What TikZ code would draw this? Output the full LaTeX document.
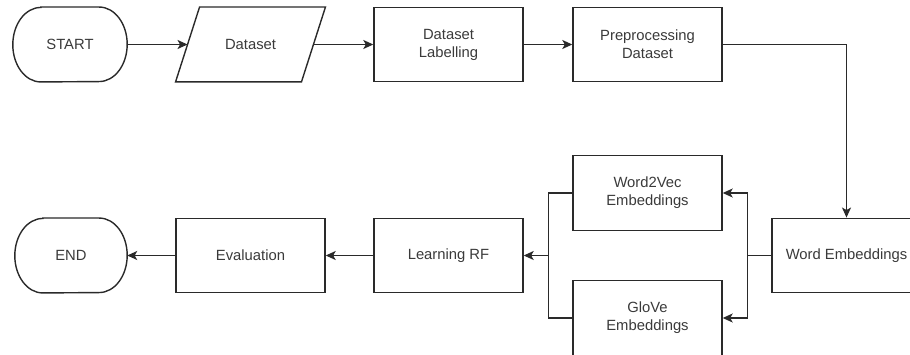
\documentclass[tikz,border=0pt]{standalone}
\usepackage{fontspec}
\setmainfont{Liberation Sans}
\usetikzlibrary{arrows.meta,calc}
\definecolor{ink}{HTML}{3A3A3A}
\definecolor{stroke}{HTML}{2A2A2A}
\begin{document}
\begin{tikzpicture}[x=1pt,y=-1pt,
  every node/.style={font=\fontsize{14.8}{18}\selectfont, text=ink, align=center},
  box/.style={draw=stroke, line width=1.4pt, minimum width=149pt, minimum height=74.5pt, inner sep=0pt},
  shell/.style={minimum width=#1, minimum height=74.5pt, inner sep=0pt},
  outline/.style={draw=stroke, line width=1.4pt},
  flow/.style={draw=stroke, line width=1.4pt, -{Stealth[length=10pt,width=9pt,inset=2.5pt]}},
  link/.style={draw=stroke, line width=1.4pt}]
\useasboundingbox (0,0) rectangle (910,355);

% top row
\node[shell=114pt] (start) at (70,44.5) {START};
\node[shell=125.5pt] (dataset) at (250.5,44.5) {Dataset};
\node[box] (label) at (448.5,44.5) {Dataset\\Labelling};
\node[box] (prep) at (647.5,44.5) {Preprocessing\\Dataset};

% embeddings branch
\node[box] (wemb) at (846.5,255.5) {Word Embeddings};
\node[box] (w2v) at (647.5,193) {Word2Vec\\Embeddings};
\node[box] (glove) at (647.5,318) {GloVe\\Embeddings};

% bottom row
\node[box] (learn) at (448.5,255.5) {Learning RF};
\node[box] (eval) at (250.5,255.5) {Evaluation};
\node[shell=112pt] (end) at (71,255.5) {END};

% terminator outlines
\foreach \n in {start,end}
  \draw[outline] ([xshift=28pt]\n.north west) -- ([xshift=-28pt]\n.north east)
    arc[start angle=90, end angle=-90, x radius=28pt, y radius=37.25pt]
    -- ([xshift=28pt]\n.south west)
    arc[start angle=270, end angle=90, x radius=28pt, y radius=37.25pt] -- cycle;

% input/output parallelogram
\draw[outline] ([xshift=12pt]dataset.north west) -- ([xshift=12pt]dataset.north east)
  -- ([xshift=-12pt]dataset.south east) -- ([xshift=-12pt]dataset.south west) -- cycle;

% connectors
\draw[flow] (start) -- (dataset);
\draw[flow] (dataset) -- (label);
\draw[flow] (label) -- (prep);
\draw[flow] (prep.east) -| (wemb.north);

\coordinate (jr) at ($(wemb.west)+(-24pt,0)$);
\draw[link] (wemb.west) -- (jr);
\draw[flow] (jr) |- (w2v.east);
\draw[flow] (jr) |- (glove.east);

\coordinate (jl) at ($(learn.east)+(25pt,0)$);
\draw[link] (w2v.west) -| (jl) |- (glove.west);
\draw[flow] (jl) -- (learn.east);

\draw[flow] (learn) -- (eval);
\draw[flow] (eval) -- (end.east);
\end{tikzpicture}
\end{document}
